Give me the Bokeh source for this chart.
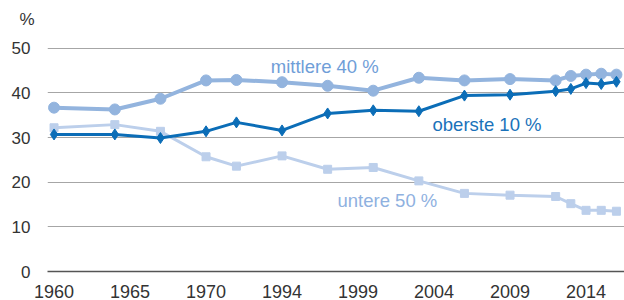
from bokeh.plotting import figure
from bokeh.models import Range1d, FixedTicker, Label, ColumnDataSource, Title
from bokeh.embed import file_html
from bokeh.resources import INLINE

# x positions (time index, 5 units between labelled ticks)
x_index = [0, 4, 7, 10, 12, 15, 18, 21, 24, 27, 30, 33, 34, 35, 36, 37]
x_tick_pos = [0, 5, 10, 15, 20, 25, 30, 35]
x_tick_labels = ["1960", "1965", "1970", "1994", "1999", "2004", "2009", "2014"]
y_ticks = [0, 10, 20, 30, 40, 50]

mittlere_40 = [36.7, 36.3, 38.7, 42.8, 42.9, 42.4, 41.6, 40.5, 43.4, 42.8, 43.1, 42.8, 43.8, 44.1, 44.3, 44.1]
oberste_10 = [30.7, 30.7, 29.9, 31.4, 33.4, 31.6, 35.4, 36.1, 35.9, 39.4, 39.6, 40.4, 40.9, 42.2, 42.0, 42.5]
untere_50 = [32.2, 32.9, 31.4, 25.7, 23.6, 25.9, 22.9, 23.3, 20.3, 17.5, 17.1, 16.8, 15.2, 13.7, 13.7, 13.5]

FONT = "Liberation Sans"
C_MID = "#93b4de"
C_TOP = "#0b6db7"
C_LOW = "#bccfeb"

src = ColumnDataSource(dict(x=x_index, mid=mittlere_40, top=oberste_10, low=untere_50))

p = figure(width=624, height=300, output_backend="svg", toolbar_location=None,
           x_range=Range1d(-0.43, 37.53), y_range=Range1d(0, 50.4),
           min_border_left=47, min_border_right=0, min_border_top=46, min_border_bottom=28)
p.outline_line_color = None
p.background_fill_color = "white"
p.border_fill_color = "white"

# default title unused
p.title.text = ""
p.title.standoff = 0
p.title.text_font_size = "1px"

# spacer (nearest the frame), then the unit label "%"
p.add_layout(Title(text=" ", text_font_size="1px", standoff=15), "above")
p.add_layout(Title(text="%", align="left", offset=-28, standoff=0, text_font=FONT,
                   text_font_size="17px", text_font_style="normal", text_color="#333333"), "above")

# axes
p.xaxis.ticker = FixedTicker(ticks=x_tick_pos)
p.xaxis.major_label_overrides = {t: l for t, l in zip(x_tick_pos, x_tick_labels)}
p.yaxis.ticker = FixedTicker(ticks=y_ticks)
for ax in (p.xaxis, p.yaxis):
    ax.major_tick_line_color = None
    ax.minor_tick_line_color = None
    ax.major_label_text_font = FONT
    ax.major_label_text_color = "#333333"
p.xaxis.major_label_text_font_size = "18px"
p.yaxis.major_label_text_font_size = "17px"
p.xaxis.major_label_standoff = 7
p.yaxis.major_label_standoff = 11
p.yaxis.axis_line_color = None
p.xaxis.axis_line_color = "#555555"
p.xaxis.axis_line_width = 1.5
p.xgrid.grid_line_color = None
p.ygrid.grid_line_color = "#a6a6a6"
p.ygrid.grid_line_width = 1

# series
p.line("x", "low", source=src, line_color=C_LOW, line_width=3)
p.scatter("x", "low", source=src, marker="square", size=8, fill_color=C_LOW, line_color=C_LOW)

p.line("x", "mid", source=src, line_color=C_MID, line_width=4)
p.scatter("x", "mid", source=src, marker="circle", size=11, fill_color=C_MID, line_color=C_MID)

p.line("x", "top", source=src, line_color=C_TOP, line_width=3)
p.scatter("x", "top", source=src, marker="diamond", size=11, fill_color=C_TOP, line_color=C_TOP)

# series labels
p.add_layout(Label(x=14.26, y=45.95, text="mittlere 40 %", text_baseline="alphabetic",
                   text_font=FONT, text_font_size="18.5px", text_color="#6f9ed8"))
p.add_layout(Label(x=24.9, y=32.9, text="oberste 10 %", text_baseline="alphabetic",
                   text_font=FONT, text_font_size="18.5px", text_color="#1a72ba"))
p.add_layout(Label(x=18.65, y=16.0, text="untere 50 %", text_baseline="alphabetic",
                   text_font=FONT, text_font_size="18.5px", text_color="#8fb1df"))

open("out.html", "w").write(file_html(p, INLINE))
